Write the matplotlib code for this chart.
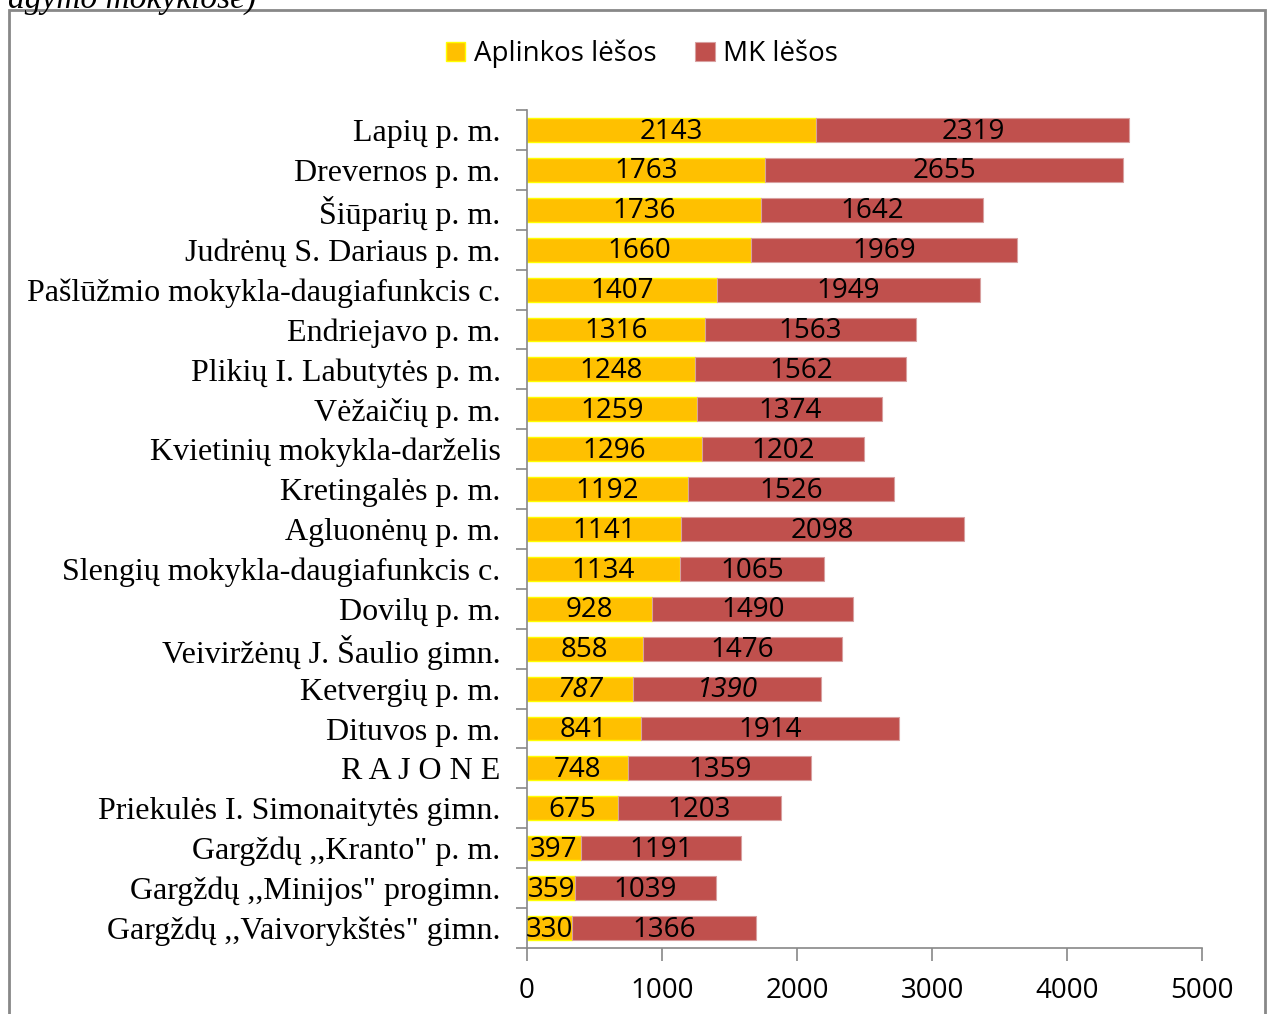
import matplotlib.pyplot as plt
import matplotlib.patches as patches
import numpy as np

# duomenys
schools = [
    "Lapių p. m.",
    "Drevernos p. m.",
    "Šiūparių p. m.",
    "Judrėnų S. Dariaus p. m.",
    "Pašlūžmio mokykla-daugiafunkcis c.",
    "Endriejavo p. m.",
    "Plikių I. Labutytės p. m.",
    "Vėžaičių p. m.",
    "Kvietinių mokykla-darželis",
    "Kretingalės p. m.",
    "Agluonėnų p. m.",
    "Slengių mokykla-daugiafunkcis c.",
    "Dovilų p. m.",
    "Veiviržėnų J. Šaulio gimn.",
    "Ketvergių p. m.",
    "Dituvos p. m.",
    "R A J O N E",
    "Priekulės I. Simonaitytės gimn.",
    "Gargždų ,,Kranto\" p. m.",
    "Gargždų ,,Minijos\" progimn.",
    "Gargždų ,,Vaivorykštės\" gimn.",
]
aplinkos = [2143, 1763, 1736, 1660, 1407, 1316, 1248, 1259, 1296, 1192, 1141,
            1134, 928, 858, 787, 841, 748, 675, 397, 359, 330]
mk = [2319, 2655, 1642, 1969, 1949, 1563, 1562, 1374, 1202, 1526, 2098,
      1065, 1490, 1476, 1390, 1914, 1359, 1203, 1191, 1039, 1366]
italic_rows = ["Ketvergių p. m."]

num_font = "Open Sans"
lbl_font = "Liberation Serif"

fig = plt.figure(figsize=(12.69, 10.14), dpi=100)
ax = fig.add_axes([527 / 1269, 1 - 948 / 1014, 675 / 1269, (948 - 110) / 1014])

y = np.arange(len(schools))
b1 = ax.barh(y, aplinkos, height=0.6, color="#FFC000", edgecolor="#FFFF00", linewidth=1,
             label="Aplinkos lėšos")
b2 = ax.barh(y, mk, left=aplinkos, height=0.6, color="#C0504D", edgecolor="#D8A0A0",
             linewidth=0.8, label="MK lėšos")

for i, name in enumerate(schools):
    st = "italic" if name in italic_rows else "normal"
    ax.text(aplinkos[i] / 2, i + 0.04, str(aplinkos[i]), ha="center", va="center",
            fontsize=20, family=num_font, style=st)
    ax.text(aplinkos[i] + mk[i] / 2, i + 0.04, str(mk[i]), ha="center", va="center",
            fontsize=20, family=num_font, style=st)

ax.set_xlim(0, 5000)
ax.set_ylim(len(schools) - 0.5, -0.5)
ax.set_xticks(range(0, 5001, 1000))
ax.set_yticks(y)
ax.set_yticklabels(schools, family=lbl_font, fontsize=23)
ax.set_yticks(np.arange(-0.5, len(schools), 1), minor=True)
ax.tick_params(axis="y", which="major", length=0, pad=19)
ax.tick_params(axis="y", which="minor", length=8, color="#888888", width=1.2)
ax.tick_params(axis="x", length=9, color="#888888", width=1.2, pad=12)
for t in ax.get_xticklabels():
    t.set_family(num_font)
    t.set_fontsize(20)
for s in ["top", "right"]:
    ax.spines[s].set_visible(False)
for s in ["left", "bottom"]:
    ax.spines[s].set_color("#888888")
    ax.spines[s].set_linewidth(1.2)

fig.legend(handles=[b1, b2], loc="center", bbox_to_anchor=(642 / 1269, 1 - 54 / 1014),
           ncol=2, frameon=False, prop={"family": num_font, "size": 20},
           handlelength=0.7, handleheight=0.7, handletextpad=0.3, columnspacing=1.4)

fig.patches.append(patches.Rectangle((9 / 1269, -0.01), (1265 - 9) / 1269, 1.01 - 10 / 1014,
                                     transform=fig.transFigure, fill=False,
                                     edgecolor="#888888", linewidth=2))
fig.text(8 / 1269, 1.0, "agymo mokyklose)", family=lbl_font, style="italic",
         fontsize=24, va="center", ha="left")

fig.savefig("out.png", dpi=100)
